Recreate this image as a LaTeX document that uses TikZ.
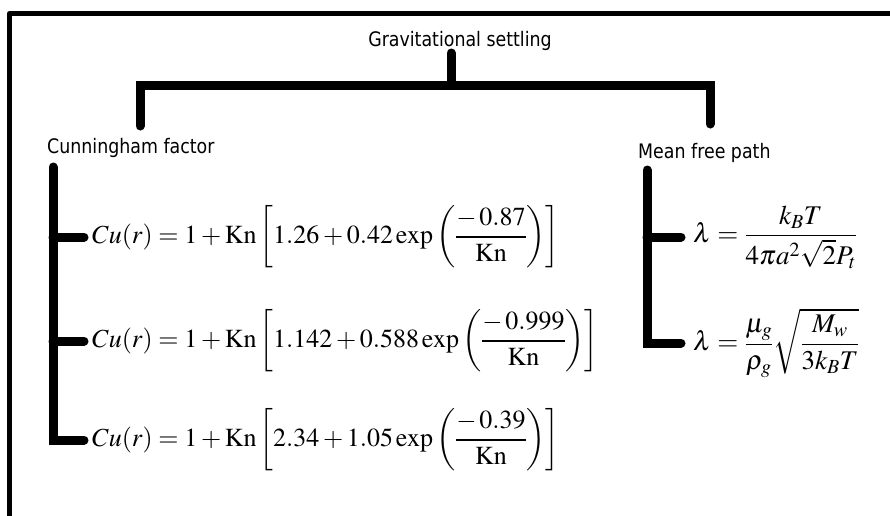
\documentclass[tikz,border=0pt]{standalone}
\usepackage{mathptmx}
\usepackage[no-math]{fontspec}
\newfontfamily\labfont[FakeStretch=0.87]{DejaVu Sans}
\begin{document}
\begin{tikzpicture}[x=1pt,y=-1pt,
  bar/.style={line width=9pt, line cap=round, line join=miter},
  frame/.style={line width=5pt, line join=round},
  lab/.style={font=\labfont\fontsize{20}{24}\selectfont, inner sep=0pt},
  eq/.style={font=\fontsize{26}{30}\selectfont, inner sep=0pt, anchor=west},
  lam/.style={font=\fontsize{27}{31}\selectfont, inner sep=0pt, anchor=west}]
\useasboundingbox (0,0) rectangle (890,515);
\fill[white] (0,0) rectangle (890,515);
\draw[frame] (9.5,520) -- (9.5,13.5) -- (895,13.5);

% labels
\node[lab, anchor=base] (root) at (460,46) {Gravitational settling};
\node[lab, anchor=base west] (cun) at (47,153) {Cunningham factor};
\node[lab, anchor=base west] (mfp) at (638,158) {Mean free path};

% formulas
\node[eq] (f1) at (92,237) {$\displaystyle Cu(r) = 1 + \mathrm{Kn}\left[1.26 + 0.42\exp\left(\frac{-\,0.87}{\mathrm{Kn}}\right)\right]$};
\node[eq] (f2) at (92,341) {$\displaystyle Cu(r) = 1 + \mathrm{Kn}\left[1.142 + 0.588\exp\left(\frac{-\,0.999}{\mathrm{Kn}}\right)\right]$};
\node[eq] (f3) at (92,440) {$\displaystyle Cu(r) = 1 + \mathrm{Kn}\left[2.34 + 1.05\exp\left(\frac{-\,0.39}{\mathrm{Kn}}\right)\right]$};
\node[lam] (l1) at (693,237) {$\displaystyle \lambda = \frac{k_B T}{4\pi a^2\sqrt{2}P_t}$};
\node[lam] (l2) at (693,343) {$\displaystyle \lambda = \frac{\mu_g}{\rho_g}\sqrt{\frac{M_w}{3k_B T}}$};

% connectors
\coordinate (stemtop) at (451,53);
\coordinate (j) at (451,85);
\coordinate (cl) at (140,126);
\coordinate (cr) at (710,124);
\draw[bar] (stemtop) -- (j);
\draw[bar] (cl) |- (j) -| (cr);

\coordinate (ctop) at (53,167);
\draw[bar] (ctop) |- ([xshift=-8pt]f3.west);
\draw[bar] (ctop |- f1.west) -- ([xshift=-8pt]f1.west);
\draw[bar] (ctop |- f2.west) -- ([xshift=-8pt]f2.west);

\coordinate (mtop) at (647,170);
\draw[bar] (mtop) |- ([xshift=-12pt]l2.west);
\draw[bar] (mtop |- l1.west) -- ([xshift=-12pt]l1.west);
\end{tikzpicture}
\end{document}
